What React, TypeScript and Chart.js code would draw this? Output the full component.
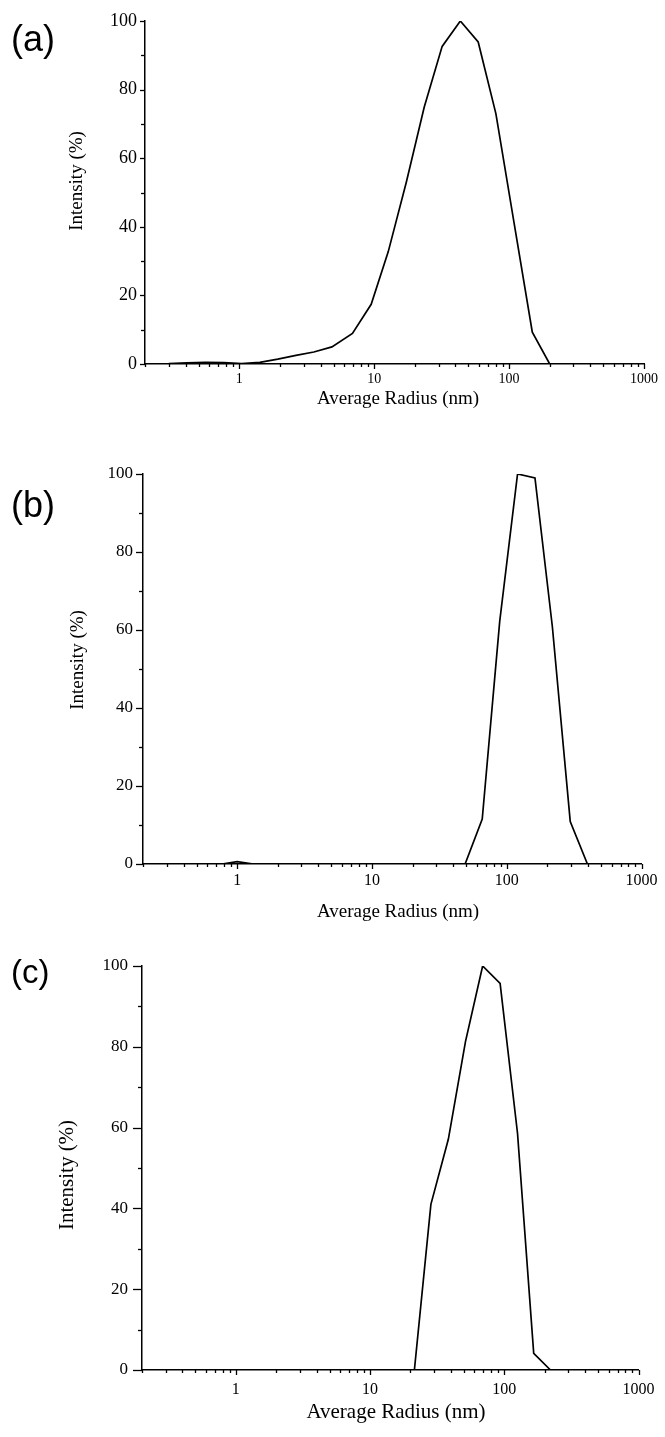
import React, { useEffect, useRef } from "react";
import { Chart, registerables } from "chart.js";

Chart.register(...registerables);

// ---- data ----
const radiusA = [0.2, 0.3, 0.41, 0.56, 0.77, 1.04, 1.42, 1.93, 2.63, 3.57, 4.86, 6.9, 9.5, 12.7, 17.3, 23.5, 31.9, 43.5, 59, 79.8, 109, 148.6, 200];
const intensityA = [0, 0.1, 0.3, 0.5, 0.4, 0.1, 0.5, 1.4, 2.5, 3.5, 5.0, 8.9, 17.4, 32.7, 53, 74.9, 92.6, 100, 93.9, 73, 41, 9.3, 0];

const radiusB = [0.2, 0.77, 1.0, 1.32, 49.1, 65.8, 88.7, 120.3, 162, 218, 296, 397];
const intensityB = [0, 0, 0.6, 0, 0, 11.5, 62.2, 100, 99, 60.9, 10.9, 0];

const radiusC = [0.2, 21.4, 28.4, 38.3, 51.4, 69, 93.1, 125.5, 165.7, 221];
const intensityC = [0, 0, 41, 57.1, 81.3, 100, 95.7, 58.6, 4.1, 0];

const xTickValues = [1, 10, 100, 1000];
const yTickValues = [0, 20, 40, 60, 80, 100];
const xTitle = "Average Radius (nm)";
const yTitle = "Intensity (%)";
const panelLabels = ["(a)", "(b)", "(c)"];

// ---- layout / style per panel ----
const PAGE_W = 665;
const panels = [
  {
    label: panelLabels[0], xs: radiusA, ys: intensityA,
    top: 0, height: 420,
    area: { left: 145, right: 644, top: 21, bottom: 364 },
    yTickSize: 18, xTickSize: 14, yTickPad: 8, xTickPad: 6.5,
    yMajorLen: 5, yMinorLen: 4, titleSize: 19,
    xTitlePos: [398, 399], yTitlePos: [77.5, 181],
    labelSize: 36, labelPos: [11, 41.5],
  },
  {
    label: panelLabels[1], xs: radiusB, ys: intensityB,
    top: 420, height: 505,
    area: { left: 143, right: 646, top: 54, bottom: 444 },
    yTickSize: 17, xTickSize: 16, yTickPad: 10, xTickPad: 7.5,
    yMajorLen: 7, yMinorLen: 4, titleSize: 19,
    xTitlePos: [398, 492], yTitlePos: [78, 240],
    labelSize: 36, labelPos: [11, 87],
  },
  {
    label: panelLabels[2], xs: radiusC, ys: intensityC,
    top: 925, height: 512,
    area: { left: 142, right: 644, top: 41, bottom: 445 },
    yTickSize: 17, xTickSize: 16, yTickPad: 14, xTickPad: 10.5,
    yMajorLen: 9, yMinorLen: 4, titleSize: 21,
    xTitlePos: [396, 487], yTitlePos: [67.5, 250],
    labelSize: 33, labelPos: [11, 49],
  },
];

type Panel = typeof panels[number];

function makeDecor(p: Panel) {
  return {
    id: "decor",
    afterDraw(chart: any) {
      const ctx: CanvasRenderingContext2D = chart.ctx;
      const xs = chart.scales.x;
      const ys = chart.scales.y;
      const { left, bottom } = chart.chartArea;
      ctx.save();
      ctx.strokeStyle = "#000";
      ctx.lineWidth = 1.3;
      // x ticks: majors at decades, minors at 2..9
      for (let k = -1; k <= 3; k++) {
        for (let m = 1; m <= 9; m++) {
          const v = m * Math.pow(10, k);
          if (v < xs.min * 0.999 || v > xs.max * 1.001) continue;
          const px = Math.round(xs.getPixelForValue(v)) + 0.5;
          const len = m === 1 ? 5 : 3;
          ctx.beginPath();
          ctx.moveTo(px, bottom);
          ctx.lineTo(px, bottom + len);
          ctx.stroke();
        }
      }
      // y ticks: majors every 20, minors every 10
      for (let v = 0; v <= 100; v += 10) {
        const py = Math.round(ys.getPixelForValue(v)) + 0.5;
        const len = v % 20 === 0 ? p.yMajorLen : p.yMinorLen;
        ctx.beginPath();
        ctx.moveTo(left - len, py);
        ctx.lineTo(left, py);
        ctx.stroke();
      }
      // axis titles
      ctx.fillStyle = "#000";
      ctx.font = `${p.titleSize}px "Liberation Serif", "Times New Roman", serif`;
      ctx.textAlign = "center";
      ctx.textBaseline = "middle";
      ctx.fillText(xTitle, p.xTitlePos[0], p.xTitlePos[1]);
      ctx.save();
      ctx.translate(p.yTitlePos[0], p.yTitlePos[1]);
      ctx.rotate(-Math.PI / 2);
      ctx.fillText(yTitle, 0, 0);
      ctx.restore();
      // panel label
      ctx.font = `${p.labelSize}px "Liberation Sans", Arial, sans-serif`;
      ctx.textAlign = "left";
      ctx.fillText(p.label, p.labelPos[0], p.labelPos[1]);
      ctx.restore();
    },
  };
}

function PanelChart({ p }: { p: Panel }) {
  const ref = useRef<HTMLCanvasElement | null>(null);
  useEffect(() => {
    if (!ref.current) return;
    const data = p.xs.map((x, i) => ({ x, y: p.ys[i] }));
    const chart = new Chart(ref.current, {
      type: "line",
      data: {
        datasets: [
          {
            data,
            borderColor: "#000",
            borderWidth: 1.7,
            pointRadius: 0,
            tension: 0,
            fill: false,
          },
        ],
      },
      options: {
        responsive: false,
        maintainAspectRatio: false,
        animation: false,
        events: [],
        layout: {
          padding: { left: 0, top: p.area.top, right: PAGE_W - p.area.right, bottom: 0 },
        },
        plugins: { legend: { display: false }, tooltip: { enabled: false } },
        scales: {
          x: {
            type: "logarithmic",
            min: 0.2,
            max: 1000,
            afterBuildTicks: (s: any) => {
              s.ticks = xTickValues.map((v) => ({ value: v }));
            },
            afterFit: (s: any) => {
              s.height = p.height - p.area.bottom;
            },
            grid: { display: false, drawTicks: false },
            border: { display: true, color: "#000", width: 1.5 },
            ticks: {
              autoSkip: false,
              maxRotation: 0,
              minRotation: 0,
              padding: p.xTickPad,
              color: "#000",
              font: { family: '"Liberation Serif", "Times New Roman", serif', size: p.xTickSize },
              callback: (v: any) => String(v),
            },
          },
          y: {
            type: "linear",
            min: 0,
            max: 100,
            afterBuildTicks: (s: any) => {
              s.ticks = yTickValues.map((v) => ({ value: v }));
            },
            afterFit: (s: any) => {
              s.width = p.area.left;
            },
            grid: { display: false, drawTicks: false },
            border: { display: true, color: "#000", width: 1.5 },
            ticks: {
              padding: p.yTickPad,
              color: "#000",
              font: { family: '"Liberation Serif", "Times New Roman", serif', size: p.yTickSize },
              callback: (v: any) => String(v),
            },
          },
        },
      },
      plugins: [makeDecor(p)],
    } as any);
    return () => chart.destroy();
  }, [p]);
  return (
    <canvas
      ref={ref}
      width={PAGE_W}
      height={p.height}
      style={{ position: "absolute", left: 0, top: p.top, width: PAGE_W, height: p.height, display: "block" }}
    />
  );
}

export default function App() {
  return (
    <div style={{ position: "absolute", left: 0, top: 0, width: PAGE_W, height: 1437, background: "#fff" }}>
      {panels.map((p, i) => (
        <PanelChart key={i} p={p} />
      ))}
    </div>
  );
}
